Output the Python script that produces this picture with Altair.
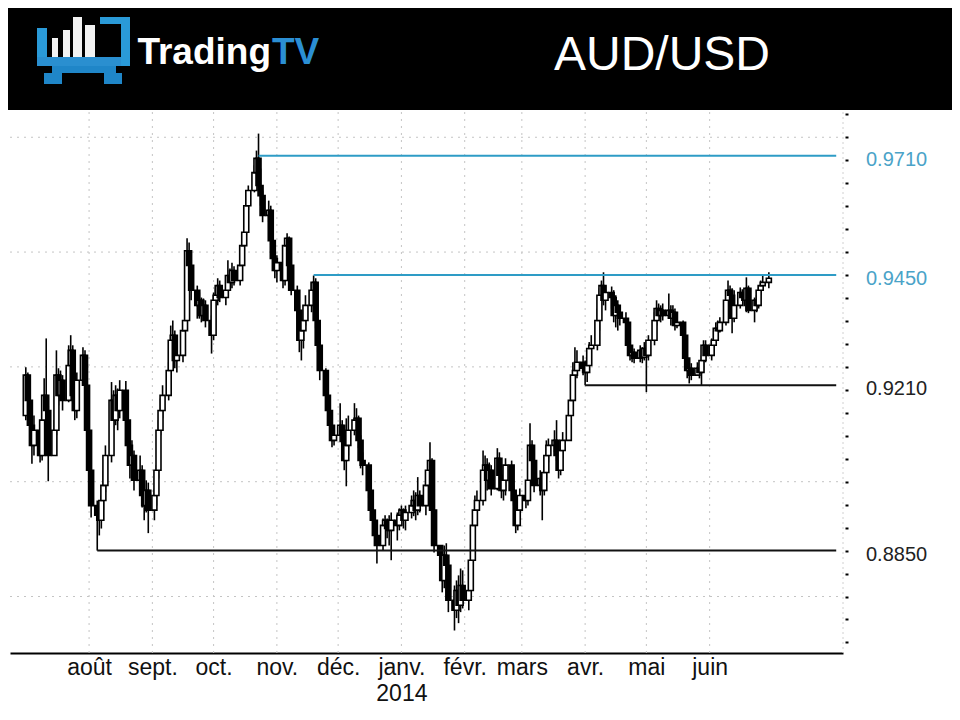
import altair as alt
import pandas as pd

# ---------------- data (AUD/USD daily candles) ----------------
first_open = 0.9144

close = [
    0.9232, 0.9177, 0.9123, 0.9079, 0.9112,
    0.9057, 0.9134, 0.9188, 0.9155, 0.9057,
    0.9112, 0.9232, 0.9188, 0.9221, 0.9177,
    0.9253, 0.9286, 0.9188, 0.9155, 0.9221,
    0.9275, 0.9210, 0.9112, 0.9025, 0.8948,
    0.8927, 0.8916, 0.8959, 0.8992, 0.9057,
    0.9177, 0.9134, 0.9188, 0.9155, 0.9199,
    0.9134, 0.9079, 0.9036, 0.9057, 0.9003,
    0.9025, 0.8970, 0.8948, 0.8981, 0.8938,
    0.8970, 0.9025, 0.9112, 0.9155, 0.9188,
    0.9242, 0.9308, 0.9319, 0.9264, 0.9275,
    0.9329, 0.9351, 0.9503, 0.9471, 0.9417,
    0.9384, 0.9395, 0.9362, 0.9384, 0.9351,
    0.9319, 0.9395, 0.9406, 0.9427, 0.9401,
    0.9417, 0.9449, 0.9434, 0.9460, 0.9438,
    0.9471, 0.9514, 0.9543, 0.9601, 0.9634,
    0.9673, 0.9704, 0.9645, 0.9623, 0.9580,
    0.9591, 0.9525, 0.9486, 0.9460, 0.9477,
    0.9438, 0.9514, 0.9530, 0.9471, 0.9417,
    0.9373, 0.9308, 0.9329, 0.9351, 0.9384,
    0.9417, 0.9434, 0.9351, 0.9297, 0.9242,
    0.9188, 0.9155, 0.9123, 0.9090, 0.9101,
    0.9123, 0.9101, 0.9046, 0.9079, 0.9112,
    0.9134, 0.9138, 0.9090, 0.9046, 0.9036,
    0.8981, 0.8938, 0.8916, 0.8883, 0.8861,
    0.8905, 0.8916, 0.8898, 0.8894, 0.8916,
    0.8905, 0.8927, 0.8938, 0.8916, 0.8933,
    0.8948, 0.8959, 0.8938, 0.8970, 0.8948,
    0.8992, 0.9025, 0.9046, 0.8938, 0.8861,
    0.8840, 0.8785, 0.8840, 0.8818, 0.8742,
    0.8720, 0.8763, 0.8731, 0.8774, 0.8742,
    0.8763, 0.8829, 0.8905, 0.8938, 0.8959,
    0.9025, 0.9036, 0.9003, 0.9025, 0.8985,
    0.9051, 0.9014, 0.8981, 0.9003, 0.9036,
    0.8981, 0.8959, 0.8905, 0.8938, 0.8970,
    0.8959, 0.9003, 0.9079, 0.9046, 0.8992,
    0.9007, 0.8981, 0.9020, 0.9057, 0.9079,
    0.9090, 0.9057, 0.9025, 0.9068, 0.9090,
    0.9144, 0.9177, 0.9232, 0.9242, 0.9260,
    0.9247, 0.9238, 0.9253, 0.9290, 0.9297,
    0.9351, 0.9406, 0.9427, 0.9395, 0.9412,
    0.9401, 0.9362, 0.9384, 0.9369, 0.9356,
    0.9347, 0.9297, 0.9275, 0.9282, 0.9269,
    0.9286, 0.9271, 0.9290, 0.9275, 0.9308,
    0.9351, 0.9377, 0.9362, 0.9373, 0.9362,
    0.9373, 0.9356, 0.9369, 0.9340, 0.9347,
    0.9319, 0.9269, 0.9242, 0.9247, 0.9232,
    0.9247, 0.9238, 0.9264, 0.9297, 0.9275,
    0.9297, 0.9308, 0.9334, 0.9329, 0.9347,
    0.9395, 0.9417, 0.9406, 0.9356, 0.9384,
    0.9412, 0.9401, 0.9395, 0.9421, 0.9373,
    0.9395, 0.9384, 0.9417, 0.9427, 0.9434,
    0.9443,
]

high = [
    0.9249, 0.9238, 0.9188, 0.9134, 0.9144,
    0.9123, 0.9166, 0.9225, 0.9312, 0.9166,
    0.9134, 0.9286, 0.9247, 0.9242, 0.9232,
    0.9297, 0.9319, 0.9297, 0.9221, 0.9238,
    0.9293, 0.9286, 0.9217, 0.9123, 0.9036,
    0.8959, 0.8948, 0.8970, 0.9025, 0.9079,
    0.9217, 0.9199, 0.9210, 0.9203, 0.9221,
    0.9219, 0.9144, 0.9090, 0.9090, 0.9068,
    0.9057, 0.9036, 0.8992, 0.9003, 0.8998,
    0.8985, 0.9036, 0.9134, 0.9181, 0.9210,
    0.9260, 0.9340, 0.9351, 0.9329, 0.9308,
    0.9340, 0.9362, 0.9530, 0.9521, 0.9482,
    0.9427, 0.9412, 0.9401, 0.9399, 0.9395,
    0.9362, 0.9412, 0.9423, 0.9443, 0.9438,
    0.9438, 0.9482, 0.9464, 0.9477, 0.9469,
    0.9482, 0.9536, 0.9552, 0.9623, 0.9645,
    0.9689, 0.9721, 0.9758, 0.9682, 0.9634,
    0.9612, 0.9601, 0.9536, 0.9499, 0.9493,
    0.9503, 0.9525, 0.9541, 0.9534, 0.9482,
    0.9427, 0.9384, 0.9351, 0.9373, 0.9406,
    0.9434, 0.9449, 0.9443, 0.9362, 0.9308,
    0.9247, 0.9203, 0.9166, 0.9134, 0.9123,
    0.9171, 0.9134, 0.9116, 0.9138, 0.9144,
    0.9171, 0.9160, 0.9144, 0.9101, 0.9064,
    0.9042, 0.8992, 0.8959, 0.8920, 0.8905,
    0.8920, 0.8927, 0.8920, 0.8927, 0.8933,
    0.8933, 0.8942, 0.8948, 0.8942, 0.8948,
    0.8970, 0.8981, 0.8977, 0.9010, 0.8981,
    0.9007, 0.9046, 0.9086, 0.9051, 0.8959,
    0.8861, 0.8850, 0.8861, 0.8866, 0.8829,
    0.8774, 0.8785, 0.8796, 0.8811, 0.8807,
    0.8796, 0.8872, 0.8920, 0.8970, 0.8981,
    0.9068, 0.9057, 0.9051, 0.9042, 0.9036,
    0.9073, 0.9064, 0.9025, 0.9025, 0.9051,
    0.9046, 0.8992, 0.8970, 0.8970, 0.8985,
    0.8985, 0.9025, 0.9127, 0.9090, 0.9057,
    0.9025, 0.9020, 0.9036, 0.9090, 0.9094,
    0.9112, 0.9134, 0.9090, 0.9079, 0.9108,
    0.9166, 0.9210, 0.9260, 0.9293, 0.9286,
    0.9275, 0.9264, 0.9286, 0.9304, 0.9319,
    0.9377, 0.9421, 0.9438, 0.9456, 0.9427,
    0.9425, 0.9417, 0.9406, 0.9395, 0.9373,
    0.9369, 0.9356, 0.9308, 0.9297, 0.9290,
    0.9297, 0.9293, 0.9304, 0.9297, 0.9319,
    0.9369, 0.9395, 0.9388, 0.9384, 0.9388,
    0.9410, 0.9384, 0.9384, 0.9377, 0.9362,
    0.9351, 0.9329, 0.9275, 0.9260, 0.9258,
    0.9260, 0.9258, 0.9275, 0.9308, 0.9308,
    0.9312, 0.9329, 0.9347, 0.9351, 0.9358,
    0.9417, 0.9438, 0.9427, 0.9421, 0.9417,
    0.9423, 0.9419, 0.9417, 0.9445, 0.9427,
    0.9401, 0.9406, 0.9427, 0.9438, 0.9449,
    0.9456,
]

low = [
    0.9134, 0.9155, 0.9090, 0.9039, 0.9057,
    0.9042, 0.9046, 0.9123, 0.9134, 0.9001,
    0.9079, 0.9101, 0.9166, 0.9177, 0.9155,
    0.9173, 0.9238, 0.9177, 0.9134, 0.9138,
    0.9210, 0.9195, 0.9090, 0.9003, 0.8922,
    0.8850, 0.8883, 0.8898, 0.8938, 0.8977,
    0.9042, 0.9116, 0.9123, 0.9112, 0.9138,
    0.9123, 0.9064, 0.9007, 0.9014, 0.8981,
    0.8970, 0.8944, 0.8916, 0.8933, 0.8888,
    0.8916, 0.8948, 0.9007, 0.9101, 0.9138,
    0.9177, 0.9225, 0.9275, 0.9247, 0.9238,
    0.9260, 0.9312, 0.9340, 0.9449, 0.9395,
    0.9355, 0.9355, 0.9347, 0.9351, 0.9336,
    0.9279, 0.9308, 0.9377, 0.9384, 0.9391,
    0.9384, 0.9414, 0.9417, 0.9421, 0.9427,
    0.9427, 0.9466, 0.9503, 0.9536, 0.9591,
    0.9630, 0.9660, 0.9634, 0.9601, 0.9565,
    0.9565, 0.9514, 0.9477, 0.9443, 0.9434,
    0.9421, 0.9427, 0.9499, 0.9449, 0.9406,
    0.9355, 0.9282, 0.9264, 0.9290, 0.9340,
    0.9369, 0.9395, 0.9334, 0.9282, 0.9221,
    0.9173, 0.9138, 0.9108, 0.9075, 0.9079,
    0.9086, 0.9079, 0.9025, 0.8990, 0.9057,
    0.9101, 0.9112, 0.9073, 0.9029, 0.9014,
    0.8964, 0.8927, 0.8894, 0.8861, 0.8822,
    0.8850, 0.8883, 0.8877, 0.8861, 0.8829,
    0.8872, 0.8894, 0.8920, 0.8898, 0.8894,
    0.8920, 0.8925, 0.8916, 0.8927, 0.8933,
    0.8927, 0.8977, 0.9007, 0.8916, 0.8846,
    0.8811, 0.8759, 0.8768, 0.8796, 0.8716,
    0.8676, 0.8703, 0.8692, 0.8716, 0.8724,
    0.8720, 0.8746, 0.8818, 0.8894, 0.8916,
    0.8948, 0.8992, 0.8981, 0.8985, 0.8970,
    0.8981, 0.8992, 0.8964, 0.8959, 0.8970,
    0.8959, 0.8948, 0.8888, 0.8894, 0.8933,
    0.8942, 0.8948, 0.8992, 0.9025, 0.8977,
    0.8970, 0.8916, 0.8970, 0.9007, 0.9042,
    0.9064, 0.9046, 0.9007, 0.9014, 0.9051,
    0.9090, 0.9134, 0.9166, 0.9221, 0.9225,
    0.9232, 0.9210, 0.9217, 0.9238, 0.9253,
    0.9286, 0.9329, 0.9395, 0.9384, 0.9373,
    0.9377, 0.9347, 0.9336, 0.9329, 0.9340,
    0.9334, 0.9286, 0.9264, 0.9260, 0.9258,
    0.9260, 0.9258, 0.9264, 0.9195, 0.9264,
    0.9297, 0.9340, 0.9351, 0.9347, 0.9351,
    0.9356, 0.9340, 0.9347, 0.9329, 0.9334,
    0.9308, 0.9260, 0.9225, 0.9214, 0.9221,
    0.9232, 0.9225, 0.9210, 0.9238, 0.9260,
    0.9264, 0.9282, 0.9297, 0.9317, 0.9325,
    0.9340, 0.9384, 0.9395, 0.9323, 0.9347,
    0.9377, 0.9388, 0.9382, 0.9369, 0.9367,
    0.9347, 0.9369, 0.9377, 0.9406, 0.9417,
    0.9421,
]

# horizontal support / resistance levels
level_values = [0.9710, 0.9450, 0.9210, 0.8850]
level_labels = ["0.9710", "0.9450", "0.9210", "0.8850"]
level_starts = ["2013-10-23", "2013-11-19", "2014-04-01", "2013-08-05"]
level_end = "2014-08-02"
level_colors = ["#2e9cc6", "#2e9cc6", "#111111", "#111111"]
label_colors = ["#4aa3c8", "#4aa3c8", "#222222", "#222222"]

# axis texts
month_labels = ["janv.", "févr.", "mars", "avr.", "mai", "juin",
                "juil.", "août", "sept.", "oct.", "nov.", "déc."]
year_label = "2014"
month_ticks = ["2013-08-01", "2013-09-01", "2013-10-01", "2013-11-01", "2013-12-01",
               "2014-01-01", "2014-02-01", "2014-03-01", "2014-04-01", "2014-05-01",
               "2014-06-01"]
grid_levels = [0.875, 0.900, 0.925, 0.950, 0.975]
y_tick_values = [round(0.865 + 0.005 * i, 3) for i in range(24)]

title_text = "AUD/USD"

# ---------------- build tables ----------------
def ms(s):
    return int(pd.Timestamp(s).value // 10**6)

dates = pd.bdate_range("2013-07-01", "2014-06-30")
n = min(len(dates), len(close), len(high), len(low))
opens = [first_open] + close[: n - 1]
candles = pd.DataFrame({
    "date": [ms(d) for d in dates[:n]],
    "open": opens,
    "close": close[:n],
    "high": [max(h, o, c) for h, o, c in zip(high[:n], opens, close[:n])],
    "low": [min(l, o, c) for l, o, c in zip(low[:n], opens, close[:n])],
})

levels = pd.DataFrame({
    "level": level_values,
    "label": level_labels,
    "start": [ms(s) for s in level_starts],
    "end": [ms(level_end)] * len(level_values),
    "color": level_colors,
    "lcolor": label_colors,
})
grid_h = pd.DataFrame({"level": grid_levels})
grid_v = pd.DataFrame({"t": [ms(s) for s in month_ticks]})
one = pd.DataFrame({"k": [0]})

# ---------------- geometry ----------------
W, H = 833, 541
OX, OY = 10, 112  # page position of plot origin (page margin 8 + padding)

xscale = alt.Scale(type="utc", nice=False,
                   domain=[alt.DateTime(year=2013, month=6, date=25, hours=17, utc=True),
                           alt.DateTime(year=2014, month=8, date=2, hours=21, utc=True)])
yscale = alt.Scale(domain=[0.8627, 0.9805], zero=False, nice=False)

month_js = "[" + ",".join("'" + m + "'" for m in month_labels) + "]"
label_expr = (f"utcmonth(datum.value) == 0 ? ['{month_labels[0]}', '{year_label}'] : "
              f"{month_js}[utcmonth(datum.value)]")

xaxis = alt.Axis(
    values=[alt.DateTime(year=int(s[:4]), month=int(s[5:7]), date=1, utc=True) for s in month_ticks],
    labelExpr=label_expr, labelFont="Liberation Sans", labelFontSize=23,
    labelColor="#111111", labelPadding=3, labelLineHeight=26,
    labelOverlap=False, labelFlush=False, ticks=False, grid=False,
    domain=True, domainColor="#000000", domainWidth=2, title=None,
)
yaxis = alt.Axis(
    orient="right", values=y_tick_values, labels=False, domain=False, grid=False,
    ticks=True, tickSize=3, tickWidth=2, tickColor="#000000", offset=2, title=None,
)

GRID = "#c4c4c4"

# ---------------- decoration helpers ----------------
def prect(x0, y0, x1, y1, color):
    return alt.Chart(one).mark_rect(color=color).encode(
        x=alt.value(x0 - OX), x2=alt.value(x1 - OX),
        y=alt.value(y0 - OY), y2=alt.value(y1 - OY))

def ptext(txt, x, y, size, color, align="left", weight="normal", font="Liberation Sans"):
    return alt.Chart(one).mark_text(
        text=txt, align=align, baseline="alphabetic", fontSize=size,
        fontWeight=weight, font=font, color=color).encode(
        x=alt.value(x - OX), y=alt.value(y - OY))

header = [
    prect(8, 8, 952, 110, "#000000"),
    # logo: TV frame
    prect(37, 28, 47, 66, "#2a9ad8"),
    prect(37, 57, 130, 66, "#2a8fd0"),
    prect(100, 17, 130, 24, "#2a9ad8"),
    prect(121, 17, 130, 66, "#2a9ad8"),
    prect(52, 66, 116, 73, "#1f86c8"),
    prect(44, 73, 62, 84, "#1f86c8"),
    prect(104, 73, 122, 84, "#1f86c8"),
    # logo: white bars
    prect(52, 38, 58, 57, "#f2f2f2"),
    prect(63, 30, 70, 57, "#f2f2f2"),
    prect(73, 17, 82, 57, "#f2f2f2"),
    prect(85, 25, 95, 57, "#f2f2f2"),
    ptext("Trading", 271, 64, 37, "#ffffff", align="right", weight="bold"),
    ptext("TV", 272, 64, 37, "#2b8fd4", align="left", weight="bold"),
    ptext(title_text, 662, 70, 48, "#ffffff", align="center"),
]

# ---------------- chart layers (every layer carries the same axes) ----------------
vgrid = alt.Chart(grid_v).mark_rule(color=GRID, strokeDash=[2, 5], strokeWidth=1).encode(
    x=alt.X("t:T", scale=xscale, axis=xaxis), y=alt.value(0), y2=alt.value(H))
hgrid = alt.Chart(grid_h).mark_rule(color=GRID, strokeDash=[2, 5], strokeWidth=1).encode(
    y=alt.Y("level:Q", scale=yscale, axis=yaxis), x=alt.value(0), x2=alt.value(W - 3))
right_edge = alt.Chart(one).mark_rule(color="#d0d0d0", strokeDash=[2, 3]).encode(
    x=alt.value(W), y=alt.value(0), y2=alt.value(H))

wicks = alt.Chart(candles).mark_rule(color="#000000", strokeWidth=1.6).encode(
    x=alt.X("date:T", scale=xscale, axis=xaxis),
    y=alt.Y("low:Q", scale=yscale, axis=yaxis),
    y2="high:Q",
)
bodies = alt.Chart(candles).mark_bar(size=5, stroke="#000000", strokeWidth=1.6).encode(
    x=alt.X("date:T", scale=xscale, axis=xaxis),
    y=alt.Y("open:Q", scale=yscale, axis=yaxis),
    y2="close:Q",
    fill=alt.condition("datum.close >= datum.open", alt.value("#ffffff"), alt.value("#000000")),
)

level_lines = alt.Chart(levels).mark_rule(strokeWidth=2).encode(
    x=alt.X("start:T", scale=xscale, axis=xaxis),
    x2="end",
    y=alt.Y("level:Q", scale=yscale, axis=yaxis),
    color=alt.Color("color:N", scale=None),
)
level_text = alt.Chart(levels).mark_text(
    align="left", baseline="middle", dy=4, fontSize=20, font="Liberation Sans").encode(
    y=alt.Y("level:Q", scale=yscale, axis=yaxis),
    x=alt.value(856),
    text="label:N",
    color=alt.Color("lcolor:N", scale=None),
)

chart = alt.layer(
    *header, vgrid, hgrid, right_edge, wicks, bodies, level_lines, level_text
).properties(
    width=W, height=H,
    autosize=alt.AutoSizeParams(type="none"),
    padding={"left": 2, "top": 104, "right": 109, "bottom": 59},
    background="#ffffff",
).configure_view(stroke=None)

chart.save("out.html", embed_options={"renderer": "svg", "actions": False})
